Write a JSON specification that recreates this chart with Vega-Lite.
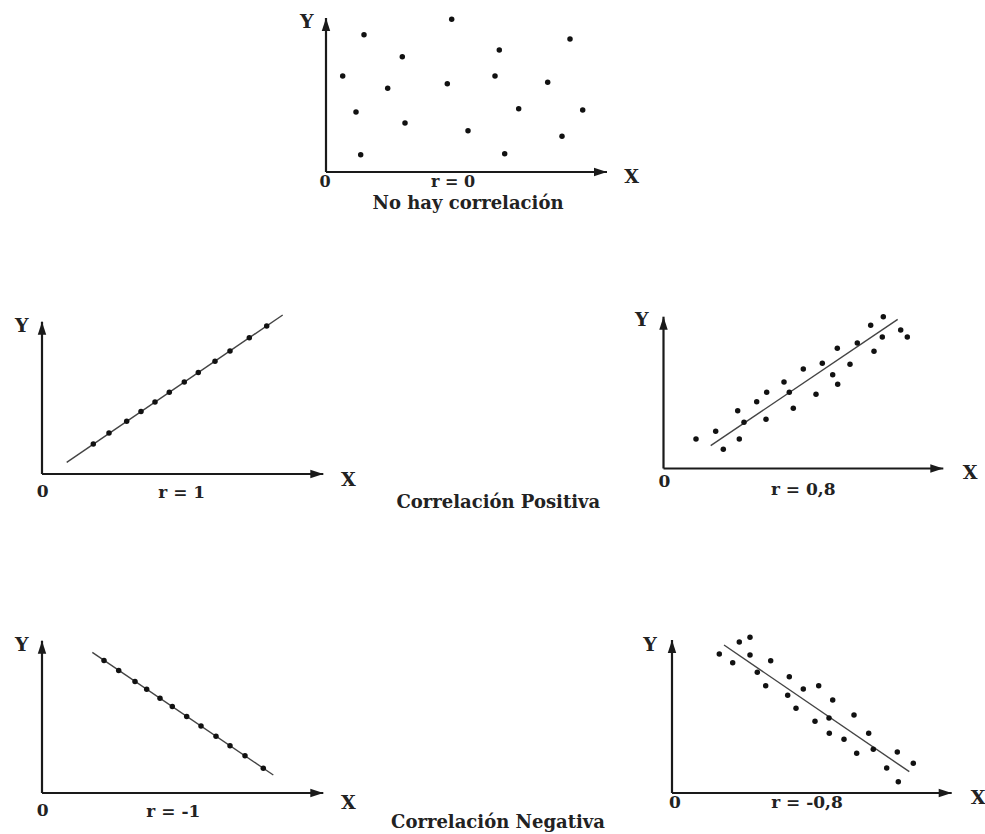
{
  "$schema": "https://vega.github.io/schema/vega-lite/v6.json",
  "padding": 0,
  "background": "white",
  "config": {"view": {"stroke": null}},
  "spacing": 0,
  "vconcat": [
    {
      "width": 656, "height": 215,
      "encoding": {
        "x": {"field": "x", "type": "quantitative", "scale": {"domain": [-32.6, 33.0], "nice": false, "zero": false}, "axis": null},
        "y": {"field": "y", "type": "quantitative", "scale": {"domain": [-4.3, 17.2], "nice": false, "zero": false}, "axis": null}
      },
      "layer": [
        {"data": {"values": [{"x": 0, "y": 0, "x2": 28.1, "y2": 0}, {"x": 0, "y": 0, "x2": 0, "y2": 15.4}]},
         "mark": {"type": "rule", "color": "#1a1a1a", "strokeWidth": 2.2},
         "encoding": {"x2": {"field": "x2"}, "y2": {"field": "y2"}}},
        {"data": {"values": [{"x": 28.1, "y": 0, "dir": "right"}, {"x": 0, "y": 15.4, "dir": "up"}]},
         "mark": {"type": "point", "filled": true, "opacity": 1, "color": "#1a1a1a", "size": 169},
         "encoding": {"shape": {"field": "dir", "type": "nominal", "scale": {"domain": ["right", "up"], "range": ["M0,0L-2,-0.65L-2,0.65Z", "M0,0L-0.65,2L0.65,2Z"]}, "legend": null}}},
        {"data": {"values": [
          {"x": 12.57, "y": 15.27}, {"x": 3.8, "y": 13.73}, {"x": 24.4, "y": 13.3}, {"x": 17.33, "y": 12.2},
          {"x": 7.63, "y": 11.53}, {"x": 1.67, "y": 9.6}, {"x": 16.9, "y": 9.6}, {"x": 12.13, "y": 8.83},
          {"x": 22.17, "y": 8.97}, {"x": 6.17, "y": 8.37}, {"x": 3.0, "y": 6.0}, {"x": 19.27, "y": 6.33},
          {"x": 25.67, "y": 6.2}, {"x": 7.9, "y": 4.9}, {"x": 14.2, "y": 4.13}, {"x": 23.6, "y": 3.57},
          {"x": 3.47, "y": 1.73}, {"x": 17.87, "y": 1.83}]},
         "mark": {"type": "circle", "size": 30, "color": "#111", "opacity": 1}},
        {"data": {"values": [{"x": -1.93, "y": 15.03, "t": "Y"}, {"x": 30.57, "y": -0.47, "t": "X"}]},
         "mark": {"type": "text", "font": "DejaVu Serif", "fontWeight": "bold", "fontSize": 19, "color": "#222", "align": "center", "baseline": "middle"},
         "encoding": {"text": {"field": "t"}}},
        {"data": {"values": [{"x": -0.1, "y": -1.0, "t": "0"}, {"x": 12.7, "y": -0.95, "t": "r = 0"}]},
         "mark": {"type": "text", "font": "DejaVu Serif", "fontWeight": "bold", "fontSize": 16, "color": "#222", "align": "center", "baseline": "middle"},
         "encoding": {"text": {"field": "t"}}},
        {"data": {"values": [{"x": 14.2, "y": -3.2, "t": "No hay correlación"}]},
         "mark": {"type": "text", "font": "DejaVu Serif", "fontWeight": "bold", "fontSize": 18, "color": "#222", "align": "center", "baseline": "middle"},
         "encoding": {"text": {"field": "t"}}}
      ]
    },
    {
      "spacing": 0,
      "hconcat": [
        {
          "width": 365, "height": 300,
          "encoding": {
            "x": {"field": "x", "type": "quantitative", "scale": {"domain": [-4.2, 32.3], "nice": false, "zero": false}, "axis": null},
            "y": {"field": "y", "type": "quantitative", "scale": {"domain": [-4.1, 25.9], "nice": false, "zero": false}, "axis": null}
          },
          "layer": [
            {"data": {"values": [{"x": 0, "y": 0, "x2": 28.13, "y2": 0}, {"x": 0, "y": 0, "x2": 0, "y2": 15.23}]},
             "mark": {"type": "rule", "color": "#1a1a1a", "strokeWidth": 2.2},
             "encoding": {"x2": {"field": "x2"}, "y2": {"field": "y2"}}},
            {"data": {"values": [{"x": 28.13, "y": 0, "dir": "right"}, {"x": 0, "y": 15.23, "dir": "up"}]},
             "mark": {"type": "point", "filled": true, "opacity": 1, "color": "#1a1a1a", "size": 169},
             "encoding": {"shape": {"field": "dir", "type": "nominal", "scale": {"domain": ["right", "up"], "range": ["M0,0L-2,-0.65L-2,0.65Z", "M0,0L-0.65,2L0.65,2Z"]}, "legend": null}}},
            {"data": {"values": [{"x": 2.47, "y": 1.17, "x2": 24.07, "y2": 15.9}]},
             "mark": {"type": "rule", "color": "#444", "strokeWidth": 1.4},
             "encoding": {"x2": {"field": "x2"}, "y2": {"field": "y2"}}},
            {"data": {"values": [
              {"x": 5.13, "y": 3.0}, {"x": 6.7, "y": 4.1}, {"x": 8.47, "y": 5.28}, {"x": 9.9, "y": 6.24},
              {"x": 11.3, "y": 7.2}, {"x": 12.73, "y": 8.17}, {"x": 14.23, "y": 9.19}, {"x": 15.63, "y": 10.15},
              {"x": 17.3, "y": 11.28}, {"x": 18.8, "y": 12.3}, {"x": 20.73, "y": 13.62}, {"x": 22.47, "y": 14.81}]},
             "mark": {"type": "circle", "size": 30, "color": "#111", "opacity": 1}},
            {"data": {"values": [{"x": -2.03, "y": 14.8, "t": "Y"}, {"x": 30.63, "y": -0.6, "t": "X"}]},
             "mark": {"type": "text", "font": "DejaVu Serif", "fontWeight": "bold", "fontSize": 19, "color": "#222", "align": "center", "baseline": "middle"},
             "encoding": {"text": {"field": "t"}}},
            {"data": {"values": [{"x": 0.07, "y": -1.77, "t": "0"}, {"x": 13.97, "y": -1.87, "t": "r = 1"}]},
             "mark": {"type": "text", "font": "DejaVu Serif", "fontWeight": "bold", "fontSize": 17, "color": "#222", "align": "center", "baseline": "middle"},
             "encoding": {"text": {"field": "t"}}}
          ]
        },
        {
          "width": 265, "height": 300,
          "data": {"values": [{"x": 13.33, "y": 1.17, "t": "Correlación Positiva"}]},
          "mark": {"type": "text", "font": "DejaVu Serif", "fontWeight": "bold", "fontSize": 18, "color": "#222", "align": "center", "baseline": "middle"},
          "encoding": {
            "x": {"field": "x", "type": "quantitative", "scale": {"domain": [0, 26.5], "nice": false, "zero": false}, "axis": null},
            "y": {"field": "y", "type": "quantitative", "scale": {"domain": [0, 30], "nice": false, "zero": false}, "axis": null},
            "text": {"field": "t"}
          }
        },
        {
          "width": 355, "height": 300,
          "encoding": {
            "x": {"field": "x", "type": "quantitative", "scale": {"domain": [-3.35, 32.15], "nice": false, "zero": false}, "axis": null},
            "y": {"field": "y", "type": "quantitative", "scale": {"domain": [-4.65, 25.35], "nice": false, "zero": false}, "axis": null}
          },
          "layer": [
            {"data": {"values": [{"x": 0, "y": 0, "x2": 27.98, "y2": 0}, {"x": 0, "y": 0, "x2": 0, "y2": 15.18}]},
             "mark": {"type": "rule", "color": "#1a1a1a", "strokeWidth": 2.2},
             "encoding": {"x2": {"field": "x2"}, "y2": {"field": "y2"}}},
            {"data": {"values": [{"x": 27.98, "y": 0, "dir": "right"}, {"x": 0, "y": 15.18, "dir": "up"}]},
             "mark": {"type": "point", "filled": true, "opacity": 1, "color": "#1a1a1a", "size": 169},
             "encoding": {"shape": {"field": "dir", "type": "nominal", "scale": {"domain": ["right", "up"], "range": ["M0,0L-2,-0.65L-2,0.65Z", "M0,0L-0.65,2L0.65,2Z"]}, "legend": null}}},
            {"data": {"values": [{"x": 4.72, "y": 2.28, "x2": 23.42, "y2": 14.92}]},
             "mark": {"type": "rule", "color": "#444", "strokeWidth": 1.4},
             "encoding": {"x2": {"field": "x2"}, "y2": {"field": "y2"}}},
            {"data": {"values": [
              {"x": 3.25, "y": 2.95}, {"x": 5.22, "y": 3.72}, {"x": 5.98, "y": 1.92}, {"x": 7.42, "y": 5.78},
              {"x": 8.05, "y": 4.62}, {"x": 7.58, "y": 2.95}, {"x": 9.32, "y": 6.68}, {"x": 10.32, "y": 7.62},
              {"x": 10.25, "y": 4.92}, {"x": 12.05, "y": 8.65}, {"x": 12.58, "y": 7.62}, {"x": 12.98, "y": 6.02},
              {"x": 13.98, "y": 9.95}, {"x": 15.25, "y": 7.42}, {"x": 15.88, "y": 10.52}, {"x": 16.92, "y": 9.38},
              {"x": 17.38, "y": 12.02}, {"x": 17.42, "y": 8.42}, {"x": 18.65, "y": 10.42}, {"x": 19.38, "y": 12.55},
              {"x": 20.72, "y": 14.32}, {"x": 21.05, "y": 11.72}, {"x": 21.98, "y": 15.18}, {"x": 21.88, "y": 13.15},
              {"x": 23.72, "y": 13.85}, {"x": 24.38, "y": 13.15}]},
             "mark": {"type": "circle", "size": 30, "color": "#111", "opacity": 1}},
            {"data": {"values": [{"x": -2.18, "y": 14.85, "t": "Y"}, {"x": 30.65, "y": -0.48, "t": "X"}]},
             "mark": {"type": "text", "font": "DejaVu Serif", "fontWeight": "bold", "fontSize": 19, "color": "#222", "align": "center", "baseline": "middle"},
             "encoding": {"text": {"field": "t"}}},
            {"data": {"values": [{"x": 0.08, "y": -1.32, "t": "0"}, {"x": 13.98, "y": -2.15, "t": "r = 0,8"}]},
             "mark": {"type": "text", "font": "DejaVu Serif", "fontWeight": "bold", "fontSize": 17, "color": "#222", "align": "center", "baseline": "middle"},
             "encoding": {"text": {"field": "t"}}}
          ]
        }
      ]
    },
    {
      "spacing": 0,
      "hconcat": [
        {
          "width": 365, "height": 319,
          "encoding": {
            "x": {"field": "x", "type": "quantitative", "scale": {"domain": [-4.2, 32.3], "nice": false, "zero": false}, "axis": null},
            "y": {"field": "y", "type": "quantitative", "scale": {"domain": [-4.1, 27.8], "nice": false, "zero": false}, "axis": null}
          },
          "layer": [
            {"data": {"values": [{"x": 0, "y": 0, "x2": 28.13, "y2": 0}, {"x": 0, "y": 0, "x2": 0, "y2": 15.23}]},
             "mark": {"type": "rule", "color": "#1a1a1a", "strokeWidth": 2.2},
             "encoding": {"x2": {"field": "x2"}, "y2": {"field": "y2"}}},
            {"data": {"values": [{"x": 28.13, "y": 0, "dir": "right"}, {"x": 0, "y": 15.23, "dir": "up"}]},
             "mark": {"type": "point", "filled": true, "opacity": 1, "color": "#1a1a1a", "size": 169},
             "encoding": {"shape": {"field": "dir", "type": "nominal", "scale": {"domain": ["right", "up"], "range": ["M0,0L-2,-0.65L-2,0.65Z", "M0,0L-0.65,2L0.65,2Z"]}, "legend": null}}},
            {"data": {"values": [{"x": 5.03, "y": 14.07, "x2": 23.13, "y2": 1.8}]},
             "mark": {"type": "rule", "color": "#444", "strokeWidth": 1.4},
             "encoding": {"x2": {"field": "x2"}, "y2": {"field": "y2"}}},
            {"data": {"values": [
              {"x": 6.2, "y": 13.26}, {"x": 7.67, "y": 12.26}, {"x": 9.3, "y": 11.16}, {"x": 10.47, "y": 10.37},
              {"x": 11.8, "y": 9.47}, {"x": 13.03, "y": 8.64}, {"x": 14.47, "y": 7.66}, {"x": 15.9, "y": 6.69},
              {"x": 17.4, "y": 5.68}, {"x": 18.8, "y": 4.73}, {"x": 20.3, "y": 3.72}, {"x": 22.13, "y": 2.48}]},
             "mark": {"type": "circle", "size": 30, "color": "#111", "opacity": 1}},
            {"data": {"values": [{"x": -2.03, "y": 14.8, "t": "Y"}, {"x": 30.63, "y": -0.97, "t": "X"}]},
             "mark": {"type": "text", "font": "DejaVu Serif", "fontWeight": "bold", "fontSize": 19, "color": "#222", "align": "center", "baseline": "middle"},
             "encoding": {"text": {"field": "t"}}},
            {"data": {"values": [{"x": 0.07, "y": -1.8, "t": "0"}, {"x": 13.13, "y": -1.87, "t": "r = -1"}]},
             "mark": {"type": "text", "font": "DejaVu Serif", "fontWeight": "bold", "fontSize": 17, "color": "#222", "align": "center", "baseline": "middle"},
             "encoding": {"text": {"field": "t"}}}
          ]
        },
        {
          "width": 265, "height": 319,
          "data": {"values": [{"x": 13.3, "y": 1.1, "t": "Correlación Negativa"}]},
          "mark": {"type": "text", "font": "DejaVu Serif", "fontWeight": "bold", "fontSize": 18, "color": "#222", "align": "center", "baseline": "middle"},
          "encoding": {
            "x": {"field": "x", "type": "quantitative", "scale": {"domain": [0, 26.5], "nice": false, "zero": false}, "axis": null},
            "y": {"field": "y", "type": "quantitative", "scale": {"domain": [0, 31.9], "nice": false, "zero": false}, "axis": null},
            "text": {"field": "t"}
          }
        },
        {
          "width": 355, "height": 319,
          "encoding": {
            "x": {"field": "x", "type": "quantitative", "scale": {"domain": [-4.2, 31.3], "nice": false, "zero": false}, "axis": null},
            "y": {"field": "y", "type": "quantitative", "scale": {"domain": [-4.1, 27.8], "nice": false, "zero": false}, "axis": null}
          },
          "layer": [
            {"data": {"values": [{"x": 0, "y": 0, "x2": 27.97, "y2": 0}, {"x": 0, "y": 0, "x2": 0, "y2": 15.3}]},
             "mark": {"type": "rule", "color": "#1a1a1a", "strokeWidth": 2.2},
             "encoding": {"x2": {"field": "x2"}, "y2": {"field": "y2"}}},
            {"data": {"values": [{"x": 27.97, "y": 0, "dir": "right"}, {"x": 0, "y": 15.3, "dir": "up"}]},
             "mark": {"type": "point", "filled": true, "opacity": 1, "color": "#1a1a1a", "size": 169},
             "encoding": {"shape": {"field": "dir", "type": "nominal", "scale": {"domain": ["right", "up"], "range": ["M0,0L-2,-0.65L-2,0.65Z", "M0,0L-0.65,2L0.65,2Z"]}, "legend": null}}},
            {"data": {"values": [{"x": 5.2, "y": 14.8, "x2": 23.73, "y2": 2.13}]},
             "mark": {"type": "rule", "color": "#444", "strokeWidth": 1.4},
             "encoding": {"x2": {"field": "x2"}, "y2": {"field": "y2"}}},
            {"data": {"values": [
              {"x": 4.73, "y": 13.9}, {"x": 6.07, "y": 13.03}, {"x": 6.73, "y": 15.1}, {"x": 7.8, "y": 15.57},
              {"x": 7.8, "y": 13.8}, {"x": 9.87, "y": 13.23}, {"x": 8.53, "y": 12.07}, {"x": 9.37, "y": 10.73},
              {"x": 11.73, "y": 11.63}, {"x": 11.57, "y": 9.77}, {"x": 13.13, "y": 10.4}, {"x": 14.67, "y": 10.73},
              {"x": 12.4, "y": 8.47}, {"x": 16.07, "y": 9.3}, {"x": 14.3, "y": 7.17}, {"x": 15.7, "y": 7.5},
              {"x": 15.73, "y": 5.97}, {"x": 17.2, "y": 5.37}, {"x": 18.2, "y": 7.8}, {"x": 18.47, "y": 3.97},
              {"x": 19.67, "y": 5.97}, {"x": 20.13, "y": 4.37}, {"x": 21.47, "y": 2.5}, {"x": 22.53, "y": 4.1},
              {"x": 22.63, "y": 1.13}, {"x": 24.13, "y": 2.97}]},
             "mark": {"type": "circle", "size": 30, "color": "#111", "opacity": 1}},
            {"data": {"values": [{"x": -2.2, "y": 14.8, "t": "Y"}, {"x": 30.6, "y": -0.5, "t": "X"}]},
             "mark": {"type": "text", "font": "DejaVu Serif", "fontWeight": "bold", "fontSize": 19, "color": "#222", "align": "center", "baseline": "middle"},
             "encoding": {"text": {"field": "t"}}},
            {"data": {"values": [{"x": 0.3, "y": -0.97, "t": "0"}, {"x": 13.5, "y": -0.97, "t": "r = -0,8"}]},
             "mark": {"type": "text", "font": "DejaVu Serif", "fontWeight": "bold", "fontSize": 17, "color": "#222", "align": "center", "baseline": "middle"},
             "encoding": {"text": {"field": "t"}}}
          ]
        }
      ]
    }
  ]
}
